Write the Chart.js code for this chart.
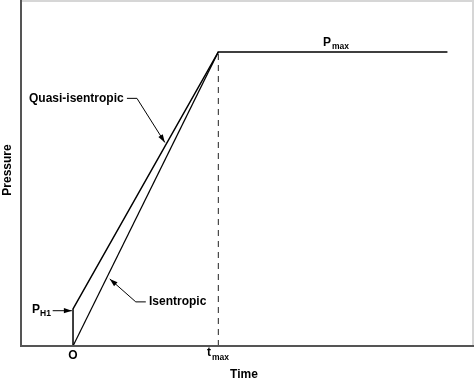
<!DOCTYPE html>
<html>
<head>
<meta charset="utf-8">
<style>
html,body{margin:0;padding:0;background:#fff;}
#wrap{position:relative;width:474px;height:382px;}
</style>
<script src="https://cdn.jsdelivr.net/npm/chart.js"></script>
</head>
<body>
<div id="wrap"><canvas id="c" width="474" height="382"></canvas></div>
<script>
// Data (time normalised to t_max = 1, pressure normalised to P_max = 1)
const quasiTimes = [0, 0, 1, 2.577];
const quasiPressures = [0, 0.126, 1, 1];
const isenTimes = [0, 1];
const isenPressures = [0, 1];
const tmaxLineTimes = [1, 1];
const tmaxLinePressures = [0, 1];

const toPts = (xs, ys) => xs.map((x, i) => ({x: x, y: ys[i]}));

const FONT = '"Liberation Sans", Arial, Helvetica, sans-serif';

const annot = {
  id: 'annot',
  afterDraw(chart) {
    const ctx = chart.ctx;
    const xs = chart.scales.x, ys = chart.scales.y;
    const ca = chart.chartArea;
    const X = v => xs.getPixelForValue(v);
    const Y = v => ys.getPixelForValue(v);
    ctx.save();
    // light frame top/right
    ctx.fillStyle = '#d6d6d6';
    ctx.fillRect(ca.left, 0, 474 - ca.left, 2);
    ctx.fillRect(ca.right, 0, 474 - ca.right, ca.bottom);
    // axes
    ctx.strokeStyle = '#555';
    ctx.lineWidth = 2;
    ctx.beginPath();
    ctx.moveTo(ca.left, 0);
    ctx.lineTo(ca.left, ca.bottom);
    ctx.lineTo(474, ca.bottom);
    ctx.stroke();

    function arrow(pts) {
      ctx.strokeStyle = '#000';
      ctx.fillStyle = '#000';
      ctx.lineWidth = 1;
      ctx.beginPath();
      pts.forEach((p, i) => { const px = X(p[0]), py = Y(p[1]); i ? ctx.lineTo(px, py) : ctx.moveTo(px, py); });
      ctx.stroke();
      const a = pts[pts.length - 2], b = pts[pts.length - 1];
      const ax = X(a[0]), ay = Y(a[1]), bx = X(b[0]), by = Y(b[1]);
      const ang = Math.atan2(by - ay, bx - ax);
      const L = 8, W = 2.6;
      ctx.beginPath();
      ctx.moveTo(bx, by);
      ctx.lineTo(bx - L * Math.cos(ang) + W * Math.sin(ang), by - L * Math.sin(ang) - W * Math.cos(ang));
      ctx.lineTo(bx - L * Math.cos(ang) - W * Math.sin(ang), by - L * Math.sin(ang) + W * Math.cos(ang));
      ctx.closePath();
      ctx.fill();
    }
    arrow([[0.371, 0.842], [0.44, 0.842], [0.632, 0.692]]);
    arrow([[0.501, 0.150], [0.432, 0.150], [0.253, 0.228]]);
    arrow([[-0.14, 0.120], [-0.008, 0.120]]);

    ctx.fillStyle = '#000';
    ctx.textBaseline = 'middle';
    ctx.font = 'bold 12px ' + FONT;
    ctx.textAlign = 'left';
    ctx.fillText('Quasi-isentropic', 29, 99);
    ctx.fillText('Isentropic', 149, 302);
    // P_H1
    ctx.fillText('P', 32, 310);
    ctx.font = 'bold 8.5px ' + FONT;
    ctx.fillText('H1', 40, 314);
    // P_max
    ctx.font = 'bold 12px ' + FONT;
    ctx.fillText('P', 323, 43);
    ctx.font = 'bold 8.5px ' + FONT;
    ctx.fillText('max', 332, 47);
    // t_max
    ctx.font = 'bold 12px ' + FONT;
    ctx.fillText('t', 207, 353);
    ctx.font = 'bold 8.5px ' + FONT;
    ctx.fillText('max', 212, 357.5);
    // O
    ctx.font = 'bold 12px ' + FONT;
    ctx.textAlign = 'center';
    ctx.fillText('O', X(0), 356);
    ctx.fillText('Time', 244, 375);
    // Pressure
    ctx.translate(7.5, 170);
    ctx.rotate(-Math.PI / 2);
    ctx.fillText('Pressure', 0, 0);
    ctx.restore();
  }
};

new Chart(document.getElementById('c'), {
  type: 'line',
  data: {
    datasets: [
      { data: toPts(quasiTimes, quasiPressures), borderColor: '#000', borderWidth: 1.5, pointRadius: 0, tension: 0 },
      { data: toPts(isenTimes, isenPressures), borderColor: '#000', borderWidth: 1.2, pointRadius: 0, tension: 0 },
      { data: toPts(tmaxLineTimes, tmaxLinePressures), borderColor: '#222', borderWidth: 1, borderDash: [6, 5], pointRadius: 0, tension: 0 }
    ]
  },
  options: {
    responsive: false,
    animation: false,
    layout: { padding: { left: 21, right: 2, top: 1, bottom: 36 } },
    plugins: { legend: { display: false }, tooltip: { enabled: false } },
    scales: {
      x: { type: 'linear', display: false, min: -0.358, max: 2.746 },
      y: { type: 'linear', display: false, min: 0, max: 1.173 }
    }
  },
  plugins: [annot]
});
</script>
</body>
</html>
